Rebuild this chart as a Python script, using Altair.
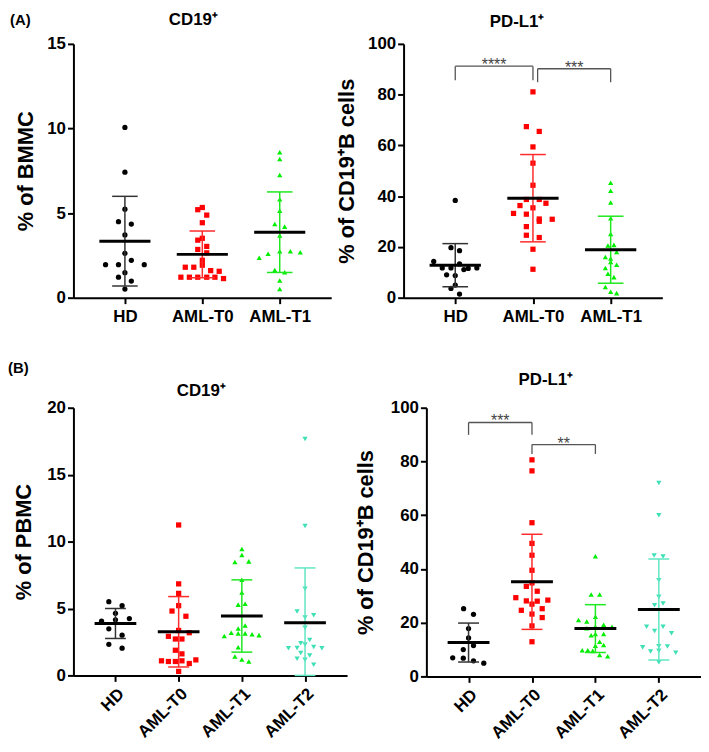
import altair as alt
import pandas as pd

FONT = "Liberation Sans"

GROUPS_A = ["HD", "AML-T0", "AML-T1"]
GROUPS_B = ["HD", "AML-T0", "AML-T1", "AML-T2"]
POINT_COLORS = ["#000000", "#ff0000", "#00ee00", "#3fe0b6"]
BAR_COLORS = ["#333333", "#ff2a2a", "#1ee81e", "#5fe6c2"]
SHAPES = ["circle", "square", "triangle-up", "triangle-down"]

# ---------------- (A) left: CD19+ % of BMMC ----------------
a1_hd = [10.06, 7.42, 5.23, 4.49, 4.35, 3.71, 2.62, 2.21, 1.95, 1.95, 1.95, 1.48, 1.21, 0.98, 0.51]
a1_hd_off = [0, 0, 0, -0.083, 0.083, 0, 0, 0.083, -0.25, -0.083, 0.25, 0, -0.083, 0.083, 0]
a1_t0 = [5.33, 5.20, 4.88, 4.43, 3.51, 3.40, 3.03, 2.85, 2.65, 2.21, 1.92, 1.80, 1.80, 1.60, 1.56,
         1.21, 1.21, 1.21, 1.21, 1.21, 1.13]
a1_t0_off = [0, -0.059, 0.057, 0, 0, -0.059, 0.057, -0.059, 0.057, 0, 0, -0.22, -0.11, 0.108, 0.218,
             -0.277, -0.167, -0.059, 0.057, 0.163, 0.274]
a1_t1 = [8.6, 8.2, 7.25, 5.82, 5.14, 4.35, 4.20, 3.67, 2.36, 2.60, 2.74, 2.74, 2.69, 1.64, 1.50, 1.01, 0.51]
a1_t1_off = [0, 0, 0, 0, 0, -0.064, 0.064, 0, -0.265, -0.15, 0, 0.137, 0.265, -0.064, 0.064, 0, 0]
a1_mean = [3.34, 2.56, 3.87]
a1_sd = [2.65, 1.38, 2.38]

# ---------------- (A) right: PD-L1+ % of CD19+ B cells ----------------
a2_hd = [38.3, 19.7, 18.5, 14.3, 13.3, 11.7, 11.7, 11.1, 11.5, 11.7, 9.0, 8.7, 4.96, 3.65, 1.43]
a2_hd_off = [0, -0.055, 0.055, -0.277, 0.055, -0.167, -0.055, 0.111, 0.167, 0.278, -0.111, 0, 0, -0.055, 0.055]
a2_t0 = [81.1, 67.4, 65.5, 59.4, 53.0, 44.3, 38.7, 38.7, 37.2, 36.3, 35.4, 33.2, 32.9, 31.0, 30.9,
         30.1, 28.0, 24.6, 23.7, 19.1, 11.2]
a2_t0_off = [0, -0.085, 0.081, 0, 0, 0, -0.085, 0.081, 0.167, -0.167, 0, -0.25, -0.085, 0.081, 0.248,
             0.081, -0.085, -0.085, 0.081, 0, 0]
a2_t1 = [45.3, 42.1, 37.5, 31.3, 25.1, 20.6, 20.8, 18.0, 16.0, 15.4, 14.1, 13.0, 11.7, 9.4, 8.1, 4.2, 2.3, 1.8]
a2_t1_off = [0, 0, 0, 0, 0, -0.035, 0.042, 0.077, -0.068, 0, 0, 0.077, -0.068, -0.035, 0.042, -0.068, 0, 0.077]
a2_mean = [12.8, 39.2, 18.9]
a2_sd = [8.5, 17.2, 13.2]
a2_brackets = {"x1": [1.0, 2.06], "x2": [2.0, 3.0], "top": [91.2, 90.2], "bottom": [85.7, 84.9],
               "label": ["****", "***"]}

# ---------------- (B) left: CD19+ % of PBMC ----------------
b1_hd = [5.51, 5.21, 4.64, 4.05, 4.15, 4.25, 3.48, 3.01, 2.32, 2.03]
b1_hd_off = [-0.105, 0.105, 0, -0.22, 0, 0.22, -0.105, 0.105, -0.105, 0.105]
b1_t0 = [11.24, 6.84, 6.13, 5.21, 4.81, 4.42, 3.36, 3.19, 2.92, 2.72, 2.72, 1.88, 1.61, 1.09, 1.04,
         1.04, 1.09, 0.89, 1.16, 0.30]
b1_t0_off = [0, 0, 0, 0, -0.105, 0.115, 0, 0.168, -0.162, -0.052, 0.052, -0.052, 0.052, -0.272, -0.162,
             -0.052, 0.052, 0.168, 0.272, 0]
b1_t1 = [9.44, 8.99, 8.47, 8.52, 7.14, 6.20, 5.29, 5.36, 3.73, 3.51, 3.19, 2.94, 3.14, 3.14, 3.07,
         3.01, 2.10, 1.41, 1.19, 1.04]
b1_t1_off = [0, 0, -0.11, 0.11, 0, 0, -0.058, 0.052, 0.052, -0.058, -0.168, -0.278, -0.058, 0.052, 0.162,
             0.272, -0.058, -0.11, 0, 0.11]
b1_t2 = [17.66, 11.16, 6.47, 4.77, 4.50, 4.32, 3.56, 2.64, 2.40, 2.05, 2.03, 2.30, 2.13, 2.03, 1.68,
         1.48, 1.24, 1.16, 0.79]
b1_t2_off = [0, 0, 0, -0.126, 0.137, 0, 0, 0.074, -0.068, -0.126, -0.262, 0, 0.137, 0.267, -0.068,
             0.074, -0.126, 0, 0.137]
b1_mean = [3.88, 3.26, 4.44, 3.93]
b1_sd = [1.12, 2.63, 2.70, 4.10]

# ---------------- (B) right: PD-L1+ % of CD19+ B cells ----------------
b2_hd = [25.2, 23.1, 17.8, 14.3, 11.5, 10.0, 6.9, 6.8, 5.8, 4.9]
b2_hd_off = [-0.078, 0.078, 0, 0, 0.078, -0.083, -0.25, -0.083, 0.078, 0.24]
b2_t0 = [80.6, 76.5, 57.2, 49.5, 45.1, 39.5, 34.8, 33.5, 31.7, 29.3, 28.1, 28.0, 28.4, 26.9, 24.6,
         25.2, 23.2, 21.9, 18.8, 12.9]
b2_t0_off = [0, 0, 0, 0, 0, 0, 0, -0.089, 0.083, -0.255, -0.089, 0.083, 0.25, 0, -0.168,
             0.161, 0, 0.161, 0, 0]
b2_t1 = [44.7, 30.5, 30.5, 22.2, 21.0, 20.4, 18.5, 19.2, 18.5, 17.9, 15.3, 15.8, 15.8, 12.9, 11.4,
         11.7, 9.7, 9.7, 9.5, 8.0, 7.5]
b2_t1_off = [0, -0.067, 0.067, 0, -0.266, -0.136, 0, 0.13, 0.262, -0.136, -0.067, 0, 0.13, 0.067, 0,
             0.13, -0.208, -0.12, -0.042, 0.067, 0.193]
b2_t2 = [72.0, 60.0, 45.0, 44.6, 35.8, 29.6, 26.5, 27.1, 18.5, 18.5, 16.9, 16.1, 10.8, 11.2, 11.1,
         9.3, 9.5, 8.8, 5.3]
b2_t2_off = [0, 0, -0.074, 0.067, 0, 0, -0.067, 0.067, -0.193, 0.067, -0.067, 0.2, -0.255, 0, 0.136,
             -0.13, 0, 0.267, 0]
b2_mean = [12.6, 35.2, 17.8, 24.9]
b2_sd = [7.25, 17.7, 8.9, 18.8]
b2_brackets = {"x1": [1.0, 2.0], "x2": [2.0, 3.0], "top": [94.5, 86.3], "bottom": [89.9, 82.8],
               "label": ["***", "**"]}

MEAN_HALF = 0.33
CAP_HALF = 0.165


def panel(groups, values, offsets, means, sds, ymax, ystep, ytitle, title, width, height,
          title_x, title_dx, title_y, rotate, brackets=None, tag=None):
    n = len(groups)
    rows = []
    for i, (vals, offs) in enumerate(zip(values, offsets)):
        for v, o in zip(vals, offs):
            rows.append({"group": groups[i], "x": i + 1 + o, "y": v,
                         "pc": POINT_COLORS[i], "shape": SHAPES[i]})
    pts = pd.DataFrame(rows)
    stats = pd.DataFrame({
        "group": groups,
        "cat": [i + 1 for i in range(n)],
        "mean": means,
        "hi": [m + s for m, s in zip(means, sds)],
        "lo": [max(0.0, m - s) for m, s in zip(means, sds)],
        "bc": BAR_COLORS[:n],
    })
    stats["ml"] = stats["cat"] - MEAN_HALF
    stats["mr"] = stats["cat"] + MEAN_HALF
    stats["cl"] = stats["cat"] - CAP_HALF
    stats["cr"] = stats["cat"] + CAP_HALF

    label_list = ",".join("'" + g + "'" for g in groups)
    xaxis = alt.Axis(values=list(range(1, n + 1)), labelExpr="[" + label_list + "][datum.value - 1]",
                     title=None, labelAngle=-45 if rotate else 0,
                     labelAlign="right" if rotate else "center",
                     labelBaseline="top", labelPadding=4 if rotate else 5)
    yaxis = alt.Axis(values=list(range(0, ymax + 1, ystep)), title=ytitle, titleX=title_x,
                     titleBaseline="alphabetic", titleAngle=270)
    xs = alt.Scale(domain=[0.335, n + 0.665], nice=False, zero=False)
    ys = alt.Scale(domain=[0, ymax], nice=False)

    def X(f):
        return alt.X(f, type="quantitative", scale=xs, axis=xaxis)

    def Y(f):
        return alt.Y(f, type="quantitative", scale=ys, axis=yaxis)

    points = alt.Chart(pts).mark_point(filled=True, size=28, opacity=1).encode(
        x=X("x"), y=Y("y"),
        color=alt.Color("pc:N", scale=None),
        shape=alt.Shape("shape:N", scale=None),
    )
    base = alt.Chart(stats)
    sd_line = base.mark_rule(strokeWidth=1.5).encode(
        x=X("cat"), y=Y("lo"), y2="hi", color=alt.Color("bc:N", scale=None))
    cap_hi = base.mark_rule(strokeWidth=1.5).encode(
        x=X("cl"), x2="cr", y=Y("hi"), color=alt.Color("bc:N", scale=None))
    cap_lo = base.mark_rule(strokeWidth=1.5).encode(
        x=X("cl"), x2="cr", y=Y("lo"), color=alt.Color("bc:N", scale=None))
    mean_line = base.mark_rule(strokeWidth=3, color="#000000").encode(
        x=X("ml"), x2="mr", y=Y("mean"))

    layers = [points, sd_line, cap_hi, cap_lo, mean_line]

    if brackets is not None:
        bd = pd.DataFrame(brackets)
        bd["mid"] = (bd["x1"] + bd["x2"]) / 2
        bb = alt.Chart(bd)
        layers += [
            bb.mark_rule(color="#555555", strokeWidth=1.3).encode(x=X("x1"), x2="x2", y=Y("top")),
            bb.mark_rule(color="#555555", strokeWidth=1.3).encode(x=X("x1"), y=Y("bottom"), y2="top"),
            bb.mark_rule(color="#555555", strokeWidth=1.3).encode(x=X("x2"), y=Y("bottom"), y2="top"),
            bb.mark_text(color="#444444", fontSize=16, font=FONT, baseline="alphabetic", dy=4).encode(
                x=X("mid"), y=Y("top"), text="label:N"),
        ]

    # panel title
    layers.append(alt.Chart(pd.DataFrame({"t": [title]})).mark_text(
        fontSize=17, fontWeight="bold", font=FONT, align="center", baseline="alphabetic",
        color="#000000").encode(text="t:N", x=alt.value(width / 2 + title_dx), y=alt.value(title_y)))

    if tag is not None:
        layers.append(alt.Chart(pd.DataFrame({"t": [tag[0]]})).mark_text(
            fontSize=15, fontWeight="bold", font=FONT, align="left", baseline="alphabetic",
            color="#000000").encode(text="t:N", x=alt.value(tag[1]), y=alt.value(tag[2])))

    return alt.layer(*layers).properties(width=width, height=height)


p_a1 = panel(GROUPS_A, [a1_hd, a1_t0, a1_t1], [a1_hd_off, a1_t0_off, a1_t1_off], a1_mean, a1_sd,
             15, 5, "% of BMMC", "CD19⁺", 260, 256, -41, -9, -19, False, tag=("(A)", -64, -19))
p_a2 = panel(GROUPS_A, [a2_hd, a2_t0, a2_t1], [a2_hd_off, a2_t0_off, a2_t1_off], a2_mean, a2_sd,
             100, 20, "% of CD19⁺B cells", "PD-L1⁺", 261, 256, -51, -16, -17.3, False, brackets=a2_brackets)
p_b1 = panel(GROUPS_B, [b1_hd, b1_t0, b1_t1, b1_t2], [b1_hd_off, b1_t0_off, b1_t1_off, b1_t2_off],
             b1_mean, b1_sd, 20, 5, "% of PBMC", "CD19⁺", 276, 270, -43, -9, -12, True,
             tag=("(B)", -66, -35))
p_b2 = panel(GROUPS_B, [b2_hd, b2_t0, b2_t1, b2_t2], [b2_hd_off, b2_t0_off, b2_t1_off, b2_t2_off],
             b2_mean, b2_sd, 100, 20, "% of CD19⁺B cells", "PD-L1⁺", 277, 271, -54, -18, -23.3, True,
             brackets=b2_brackets)

row_a = alt.hconcat(p_a1, p_a2, spacing=3)
row_b = alt.hconcat(p_b1, p_b2, spacing=7)

chart = alt.vconcat(row_a, row_b, spacing=37).properties(
    padding={"left": 0, "top": 0, "right": 0, "bottom": 0}
).configure_view(stroke=None).configure_axis(
    grid=False,
    domainColor="#000000", domainWidth=2,
    tickColor="#000000", tickWidth=2, tickSize=6,
    labelFont=FONT, labelFontWeight="bold", labelFontSize=17, labelColor="#000000",
    titleFont=FONT, titleFontWeight="bold", titleFontSize=22, titleColor="#000000",
)

chart.save("out.html", embed_options={"renderer": "svg", "actions": False})
